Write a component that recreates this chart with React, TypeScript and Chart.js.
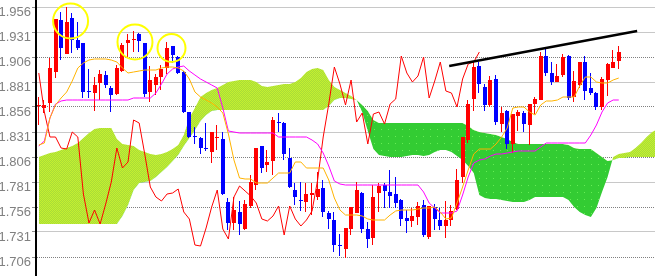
import React, { useEffect, useRef } from 'react';
import { Chart, registerables } from 'chart.js';

Chart.register(...registerables);

// ---- candle data (index 0..104) ----
const OPEN = [
  1.857, 1.855, 1.860, 1.891, 1.943, 1.909, 1.945, 1.923, 1.920, 1.872,
  1.870, 1.880, 1.888, 1.875, 1.869, 1.892, 1.920, 1.923, 1.929, 1.920,
  1.871, 1.878, 1.886, 1.895, 1.917, 1.906, 1.891, 1.851, 1.827, 1.825,
  1.815, 1.811, 1.825, 1.824, 1.761, 1.740, 1.751, 1.734, 1.757, 1.778,
  1.817, 1.798, 1.802, 1.841, 1.840, 1.805, 1.773, 1.763, 1.761, 1.768,
  1.766, 1.775, 1.750, 1.743, 1.718, 1.714, 1.734, 1.750, 1.770, 1.734,
  1.725, 1.770, 1.778, 1.771, 1.769, 1.763, 1.745, 1.742, 1.746, 1.758,
  1.726, 1.756, 1.743, 1.737, 1.743, 1.754, 1.786, 1.823, 1.864, 1.897,
  1.876, 1.858, 1.884, 1.839, 1.852, 1.819, 1.847, 1.850, 1.838, 1.859,
  1.863, 1.907, 1.890, 1.881, 1.888, 1.907, 1.866, 1.878, 1.901, 1.875,
  1.870, 1.856, 1.883, 1.895, 1.902,
];
const HIGH = [
  1.866, 1.863, 1.905, 1.944, 1.951, 1.956, 1.950, 1.941, 1.920, 1.894,
  1.886, 1.893, 1.892, 1.877, 1.898, 1.920, 1.929, 1.932, 1.930, 1.920,
  1.897, 1.889, 1.898, 1.921, 1.917, 1.907, 1.892, 1.851, 1.836, 1.826,
  1.840, 1.831, 1.838, 1.831, 1.765, 1.766, 1.762, 1.763, 1.788, 1.815,
  1.817, 1.813, 1.846, 1.850, 1.841, 1.815, 1.780, 1.781, 1.780, 1.780,
  1.791, 1.783, 1.752, 1.751, 1.729, 1.735, 1.756, 1.781, 1.771, 1.741,
  1.778, 1.780, 1.780, 1.793, 1.786, 1.764, 1.753, 1.755, 1.761, 1.763,
  1.757, 1.759, 1.755, 1.762, 1.758, 1.794, 1.826, 1.863, 1.901, 1.901,
  1.879, 1.887, 1.888, 1.856, 1.853, 1.849, 1.853, 1.852, 1.859, 1.866,
  1.911, 1.915, 1.901, 1.899, 1.909, 1.908, 1.892, 1.901, 1.907, 1.890,
  1.871, 1.886, 1.900, 1.913, 1.917,
];
const LOW = [
  1.838, 1.850, 1.851, 1.885, 1.903, 1.909, 1.910, 1.913, 1.865, 1.865,
  1.852, 1.863, 1.875, 1.851, 1.868, 1.891, 1.906, 1.911, 1.911, 1.866,
  1.861, 1.868, 1.873, 1.889, 1.900, 1.889, 1.850, 1.825, 1.819, 1.809,
  1.812, 1.800, 1.813, 1.768, 1.733, 1.733, 1.728, 1.733, 1.755, 1.773,
  1.790, 1.791, 1.788, 1.831, 1.803, 1.775, 1.758, 1.752, 1.751, 1.748,
  1.763, 1.746, 1.734, 1.711, 1.707, 1.705, 1.728, 1.750, 1.730, 1.715,
  1.718, 1.751, 1.755, 1.755, 1.755, 1.737, 1.730, 1.736, 1.738, 1.726,
  1.724, 1.733, 1.733, 1.725, 1.737, 1.753, 1.780, 1.820, 1.852, 1.870,
  1.852, 1.856, 1.838, 1.831, 1.814, 1.810, 1.832, 1.831, 1.818, 1.849,
  1.863, 1.887, 1.878, 1.881, 1.886, 1.863, 1.861, 1.875, 1.863, 1.868,
  1.853, 1.853, 1.867, 1.895, 1.894,
];
const CLOSE = [
  1.858, 1.858, 1.895, 1.944, 1.915, 1.941, 1.923, 1.915, 1.871, 1.871,
  1.878, 1.889, 1.878, 1.868, 1.895, 1.918, 1.923, 1.924, 1.922, 1.869,
  1.883, 1.886, 1.894, 1.915, 1.908, 1.890, 1.851, 1.826, 1.826, 1.815,
  1.814, 1.831, 1.826, 1.769, 1.740, 1.753, 1.739, 1.759, 1.781, 1.815,
  1.795, 1.801, 1.843, 1.840, 1.809, 1.776, 1.766, 1.762, 1.769, 1.770,
  1.774, 1.751, 1.744, 1.718, 1.717, 1.735, 1.756, 1.773, 1.734, 1.724,
  1.766, 1.777, 1.772, 1.767, 1.760, 1.744, 1.742, 1.747, 1.757, 1.728,
  1.757, 1.744, 1.737, 1.743, 1.752, 1.783, 1.826, 1.859, 1.896, 1.879,
  1.858, 1.883, 1.841, 1.850, 1.819, 1.849, 1.851, 1.839, 1.859, 1.864,
  1.907, 1.890, 1.881, 1.887, 1.906, 1.865, 1.882, 1.901, 1.872, 1.870,
  1.856, 1.884, 1.899, 1.901, 1.911,
];

// ---- Ichimoku lines ----
const TENKAN = [
  1.818, 1.820, 1.845, 1.858, 1.865, 1.871, 1.882, 1.895, 1.900, 1.903,
  1.904, 1.904, 1.904, 1.903, 1.901, 1.895, 1.890, 1.891, 1.892, 1.893,
  1.893, 1.893, 1.895, 1.896, 1.896, 1.895, 1.892, 1.884, 1.871, 1.866,
  1.863, 1.860, 1.856, 1.850, 1.829, 1.803, 1.785, 1.784, 1.784, 1.780,
  1.780, 1.780, 1.785, 1.790, 1.790, 1.790, 1.801, 1.801, 1.795, 1.795,
  1.795, 1.795, 1.783, 1.765, 1.753, 1.748, 1.748, 1.748, 1.747, 1.744,
  1.743, 1.743, 1.743, 1.748, 1.752, 1.753, 1.753, 1.753, 1.754, 1.755,
  1.755, 1.756, 1.751, 1.744, 1.745, 1.760, 1.776, 1.793, 1.809, 1.814,
  1.814, 1.814, 1.819, 1.826, 1.835, 1.855, 1.856, 1.856, 1.851, 1.848,
  1.858, 1.862, 1.862, 1.863, 1.866, 1.866, 1.866, 1.877, 1.886, 1.886,
  1.881, 1.880, 1.880, 1.883, 1.885,
];
const KIJUN = [
  1.817, 1.822, 1.845, 1.859, 1.862, 1.863, 1.863, 1.863, 1.863, 1.863,
  1.863, 1.863, 1.863, 1.863, 1.863, 1.863, 1.863, 1.865, 1.865, 1.865,
  1.865, 1.870, 1.879, 1.889, 1.894, 1.896, 1.897, 1.892, 1.888, 1.884,
  1.881, 1.878, 1.875, 1.855, 1.832, 1.831, 1.830, 1.830, 1.830, 1.830,
  1.830, 1.830, 1.830, 1.826, 1.826, 1.826, 1.826, 1.826, 1.826, 1.823,
  1.819, 1.810, 1.797, 1.782, 1.779, 1.778, 1.778, 1.778, 1.778, 1.778,
  1.778, 1.778, 1.778, 1.778, 1.778, 1.778, 1.778, 1.778, 1.778, 1.771,
  1.760, 1.755, 1.750, 1.750, 1.750, 1.752, 1.768, 1.786, 1.800, 1.803,
  1.804, 1.807, 1.809, 1.809, 1.810, 1.811, 1.812, 1.812, 1.812, 1.812,
  1.816, 1.820, 1.820, 1.820, 1.820, 1.820, 1.820, 1.820, 1.820, 1.828,
  1.838, 1.851, 1.860, 1.863, 1.863,
];
// leading spans (index 0..111, drawn 26 bars ahead)
const SPAN_A = [
  1.806, 1.808, 1.810, 1.811, 1.813, 1.815, 1.817, 1.820, 1.825, 1.830,
  1.834, 1.835, 1.835, 1.835, 1.824, 1.819, 1.818, 1.817, 1.813, 1.811,
  1.809, 1.808, 1.809, 1.811, 1.814, 1.818, 1.828, 1.845, 1.855, 1.866,
  1.870, 1.873, 1.875, 1.878, 1.881, 1.882, 1.883, 1.883, 1.883, 1.881,
  1.877, 1.876, 1.877, 1.878, 1.879, 1.879, 1.881, 1.885, 1.891, 1.894,
  1.895, 1.893, 1.883, 1.876, 1.873, 1.870, 1.867, 1.863, 1.851, 1.832,
  1.814, 1.808, 1.807, 1.806, 1.806, 1.806, 1.807, 1.808, 1.808, 1.807,
  1.808, 1.811, 1.813, 1.813, 1.811, 1.807, 1.803, 1.797, 1.790, 1.768,
  1.765, 1.764, 1.764, 1.763, 1.762, 1.761, 1.761, 1.761, 1.763, 1.766,
  1.766, 1.766, 1.766, 1.766, 1.766, 1.763, 1.756, 1.751, 1.748, 1.746,
  1.755, 1.771, 1.786, 1.806, 1.809, 1.810, 1.811, 1.815, 1.820, 1.826,
  1.831, 1.834,
];
const SPAN_B = [
  1.739, 1.739, 1.739, 1.739, 1.739, 1.739, 1.739, 1.739, 1.739, 1.739,
  1.739, 1.739, 1.739, 1.739, 1.739, 1.747, 1.758, 1.773, 1.780, 1.781,
  1.782, 1.786, 1.791, 1.796, 1.802, 1.808, 1.817, 1.825, 1.833, 1.842,
  1.848, 1.852, 1.853, 1.853, 1.853, 1.853, 1.853, 1.853, 1.853, 1.853,
  1.853, 1.853, 1.853, 1.853, 1.853, 1.853, 1.853, 1.853, 1.853, 1.853,
  1.853, 1.853, 1.857, 1.863, 1.865, 1.865, 1.864, 1.863, 1.858, 1.852,
  1.843, 1.840, 1.840, 1.840, 1.840, 1.840, 1.840, 1.840, 1.840, 1.840,
  1.840, 1.840, 1.840, 1.840, 1.840, 1.840, 1.840, 1.837, 1.833, 1.831,
  1.830, 1.829, 1.828, 1.826, 1.824, 1.821, 1.819, 1.819, 1.819, 1.819,
  1.819, 1.819, 1.819, 1.819, 1.819, 1.818, 1.815, 1.814, 1.814, 1.814,
  1.810, 1.806, 1.802, 1.803, 1.805, 1.805, 1.806, 1.806, 1.806, 1.806,
  1.806, 1.806,
];
const CHIKOU_SHIFT = 25; // lagging span: close drawn 25 bars back

// ---- annotations ----
const TREND_X = [73.6, 107.3];
const TREND_Y = [1.897, 1.932];
const CIRCLE_X = [5.7, 17.25, 23.8];
const CIRCLE_Y = [1.942, 1.921, 1.915];
const CIRCLE_R = [17.5, 17.5, 14];

// ---- axis ----
const Y_TICKS = [1.706, 1.731, 1.756, 1.781, 1.806, 1.831, 1.856, 1.881, 1.906, 1.931, 1.956];
const DOTTED_TICKS = [1.706, 1.756, 1.806, 1.856, 1.906];
const Y_MIN = 1.687;
const Y_MAX = 1.963;
const X_MIN = -0.5;
const X_MAX = 110.5;

const isDotted = (v: any) =>
  typeof v === 'number' && DOTTED_TICKS.some((d) => Math.abs(d - v) < 1e-6);

function makePattern(ctx: CanvasRenderingContext2D, w: number, h: number, draw: (g: CanvasRenderingContext2D) => void) {
  const c = document.createElement('canvas');
  c.width = w;
  c.height = h;
  const g = c.getContext('2d') as CanvasRenderingContext2D;
  draw(g);
  return ctx.createPattern(c, 'repeat') as CanvasPattern;
}

const snapPlugin = {
  id: 'snapBars',
  afterDatasetsUpdate(chart: any) {
    chart.data.datasets.forEach((ds: any, di: number) => {
      if (ds.type !== 'bar') return;
      const meta = chart.getDatasetMeta(di);
      meta.data.forEach((el: any) => {
        const cx = Math.round(el.x);
        el.x = ds.label === 'wick' ? cx - 0.5 : cx;
        el.y = Math.round(el.y);
        el.base = Math.round(el.base);
      });
    });
  },
};

export default function App() {
  const ref = useRef<HTMLCanvasElement>(null);

  useEffect(() => {
    const canvas = ref.current as HTMLCanvasElement;
    const ctx = canvas.getContext('2d') as CanvasRenderingContext2D;

    const yellowGreen = makePattern(ctx, 2, 2, (g) => {
      g.fillStyle = '#a8dc38';
      g.fillRect(0, 0, 2, 2);
      g.fillStyle = '#c4f030';
      g.fillRect(0, 0, 1, 1);
      g.fillRect(1, 1, 1, 1);
    });
    const green = makePattern(ctx, 7, 7, (g) => {
      g.fillStyle = '#33cc33';
      g.fillRect(0, 0, 7, 7);
      g.fillStyle = '#66ee55';
      g.fillRect(3, 3, 1, 1);
    });

    const candleColors = OPEN.map((o, i) => (CLOSE[i] >= o ? '#ff0000' : '#0000ff'));
    const bodies = OPEN.map((o, i) => ({ x: i, y: [o, CLOSE[i]] }));
    const wicks = LOW.map((l, i) => ({ x: i, y: [l, HIGH[i]] }));
    const series = (arr: number[]) => arr.map((v, i) => ({ x: i, y: v }));
    const chikou = series(CLOSE.slice(CHIKOU_SHIFT));
    const trend = TREND_X.map((x, i) => ({ x, y: TREND_Y[i] }));
    const circles = CIRCLE_X.map((x, i) => ({ x, y: CIRCLE_Y[i], r: CIRCLE_R[i] }));

    const lineBase = { pointRadius: 0, pointHoverRadius: 0, tension: 0, borderWidth: 1, fill: false };

    const chart = new Chart(ctx, {
      type: 'bar',
      data: {
        datasets: [
          {
            type: 'line',
            label: 'spanA',
            data: series(SPAN_A),
            ...lineBase,
            borderColor: 'rgba(0,0,0,0)',
            fill: { target: '+1', above: yellowGreen, below: green },
            order: 10,
          },
          {
            type: 'line',
            label: 'spanB',
            data: series(SPAN_B),
            ...lineBase,
            borderColor: 'rgba(0,0,0,0)',
            order: 10,
          },
          {
            type: 'bar',
            label: 'wick',
            data: wicks,
            backgroundColor: candleColors,
            barThickness: 1,
            grouped: false,
            inflateAmount: 0,
            borderWidth: 0,
            order: 6,
          },
          {
            type: 'bar',
            label: 'body',
            data: bodies,
            backgroundColor: candleColors,
            barThickness: 4,
            grouped: false,
            inflateAmount: 0,
            borderWidth: 0,
            order: 5,
          },
          { type: 'line', label: 'chikou', data: chikou, ...lineBase, borderColor: '#ff0000', order: 3 },
          { type: 'line', label: 'kijun', data: series(KIJUN), ...lineBase, borderColor: '#ff00ff', order: 2 },
          { type: 'line', label: 'tenkan', data: series(TENKAN), ...lineBase, borderColor: '#ffb300', order: 1 },
          { type: 'line', label: 'trend', data: trend, ...lineBase, borderColor: '#000000', borderWidth: 2.5, order: 0 },
          {
            type: 'bubble',
            label: 'circles',
            data: circles,
            backgroundColor: 'rgba(0,0,0,0)',
            borderColor: '#ffff00',
            borderWidth: 2,
            hoverRadius: 0,
            order: -1,
          },
        ] as any,
      },
      options: {
        responsive: false,
        animation: false,
        events: [],
        layout: { padding: 0, autoPadding: false },
        plugins: { legend: { display: false }, tooltip: { enabled: false } },
        scales: {
          x: {
            type: 'linear',
            min: X_MIN,
            max: X_MAX,
            display: false,
            offset: false,
            grid: { display: false },
          },
          y: {
            type: 'linear',
            min: Y_MIN,
            max: Y_MAX,
            afterBuildTicks: (scale: any) => {
              scale.ticks = Y_TICKS.map((v) => ({ value: v }));
            },
            afterFit: (scale: any) => {
              scale.width = 36;
              scale.paddingTop = 0;
              scale.paddingBottom = 0;
            },
            ticks: {
              autoSkip: false,
              callback: (v: any) => Number(v).toFixed(3),
              color: '#808080',
              font: { family: "'Liberation Sans', Arial, sans-serif", size: 13 },
              padding: 1,
              labelOffset: 5,
            },
            grid: {
              color: (c: any) => (isDotted(c.tick && c.tick.value) ? '#808080' : '#c8c8c8'),
              lineWidth: 1,
              tickLength: 4,
              tickColor: '#909090',
              drawTicks: true,
            },
            border: {
              display: true,
              color: '#000000',
              width: 2,
              dash: (c: any) => (c.tick && isDotted(c.tick.value) ? [1, 1] : []),
            },
          },
        },
      } as any,
      plugins: [snapPlugin],
    });

    return () => chart.destroy();
  }, []);

  return (
    <div style={{ position: 'fixed', left: 0, top: 0, width: 655, height: 276, background: '#ffffff' }}>
      <canvas ref={ref} width={655} height={276} style={{ display: 'block', width: 655, height: 276 }} />
    </div>
  );
}
